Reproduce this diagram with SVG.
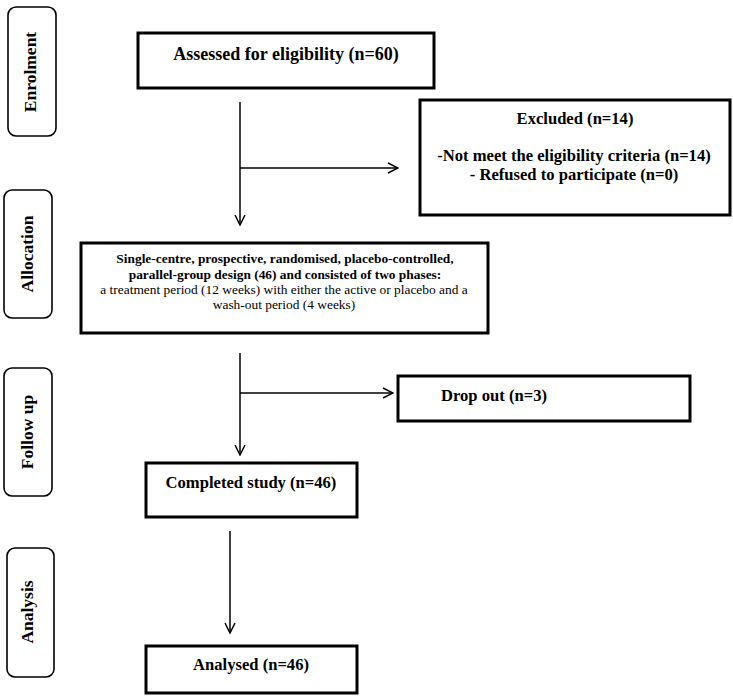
<svg xmlns="http://www.w3.org/2000/svg" width="733" height="700" viewBox="0 0 733 700">
<style>
  .tab { fill: #fff; stroke: #000; stroke-width: 1.6; }
  .box { fill: #fff; stroke: #000; stroke-width: 3; }
  .tabtxt { font-family: "Liberation Serif", "Times New Roman", serif; font-weight: bold; font-size: 17.5px; text-anchor: middle; fill: #000; }
  .bt { font-family: "Liberation Serif", "Times New Roman", serif; font-weight: bold; font-size: 16.6px; fill: #000; }
  .sm { font-family: "Liberation Serif", "Times New Roman", serif; font-size: 13.4px; fill: #000; text-anchor: middle; }
  .c { text-anchor: middle; }
  .conn { fill: none; stroke: #000; stroke-width: 1.5; }
</style>
<defs>
  <marker id="arr" viewBox="0 0 12 12" refX="11" refY="6" markerWidth="12" markerHeight="12" markerUnits="userSpaceOnUse" orient="auto">
    <path d="M1,1 L11,6 L1,11" fill="none" stroke="#000" stroke-width="1.5"/>
  </marker>
</defs>
<rect width="733" height="700" fill="#fff"/>

<g id="tab-enrolment">
  <rect class="tab" x="8" y="7" width="48" height="129" rx="8"/>
  <text class="tabtxt" transform="translate(36,72) rotate(-90)">Enrolment</text>
</g>
<g id="tab-allocation">
  <rect class="tab" x="4" y="190" width="48" height="128" rx="8"/>
  <text class="tabtxt" transform="translate(33,254) rotate(-90)">Allocation</text>
</g>
<g id="tab-followup">
  <rect class="tab" x="4" y="368" width="48" height="128" rx="8"/>
  <text class="tabtxt" transform="translate(33,432) rotate(-90)">Follow up</text>
</g>
<g id="tab-analysis">
  <rect class="tab" x="7" y="548" width="47" height="129" rx="8"/>
  <text class="tabtxt" transform="translate(33,612) rotate(-90)">Analysis</text>
</g>

<g id="connectors">
  <path class="conn" d="M240,102 V225" marker-end="url(#arr)"/>
  <path class="conn" d="M240,168 H398" marker-end="url(#arr)"/>
  <path class="conn" d="M240,353 V455" marker-end="url(#arr)"/>
  <path class="conn" d="M240,393 H393" marker-end="url(#arr)"/>
  <path class="conn" d="M230,531 V633" marker-end="url(#arr)"/>
</g>

<g id="assessed">
  <rect class="box" x="138" y="33" width="296" height="55"/>
  <text class="bt c" x="286" y="60" style="font-size:18px">Assessed for eligibility (n=60)</text>
</g>
<g id="excluded">
  <rect class="box" x="420" y="100" width="310" height="115"/>
  <text class="bt c" x="575" y="124">Excluded (n=14)</text>
  <text class="bt c" x="574" y="161">-Not meet the eligibility criteria (n=14)</text>
  <text class="bt c" x="574" y="180">- Refused to participate (n=0)</text>
</g>
<g id="allocation">
  <rect class="box" x="81" y="243" width="407" height="90"/>
  <text class="sm" x="285" y="263" font-weight="bold">Single-centre, prospective, randomised, placebo-controlled,</text>
  <text class="sm" x="285" y="279" font-weight="bold">parallel-group design (46) and consisted of two phases:</text>
  <text class="sm" x="284" y="294">a treatment period (12 weeks) with either the active or placebo and a</text>
  <text class="sm" x="284" y="309">wash-out period (4 weeks)</text>
</g>
<g id="dropout">
  <rect class="box" x="398" y="376" width="292" height="45"/>
  <text class="bt" x="441" y="401">Drop out (n=3)</text>
</g>
<g id="completed">
  <rect class="box" x="146" y="463" width="211" height="54"/>
  <text class="bt c" x="251" y="488">Completed study (n=46)</text>
</g>
<g id="analysed">
  <rect class="box" x="146" y="646" width="211" height="47"/>
  <text class="bt c" x="251" y="670">Analysed (n=46)</text>
</g>
</svg>
